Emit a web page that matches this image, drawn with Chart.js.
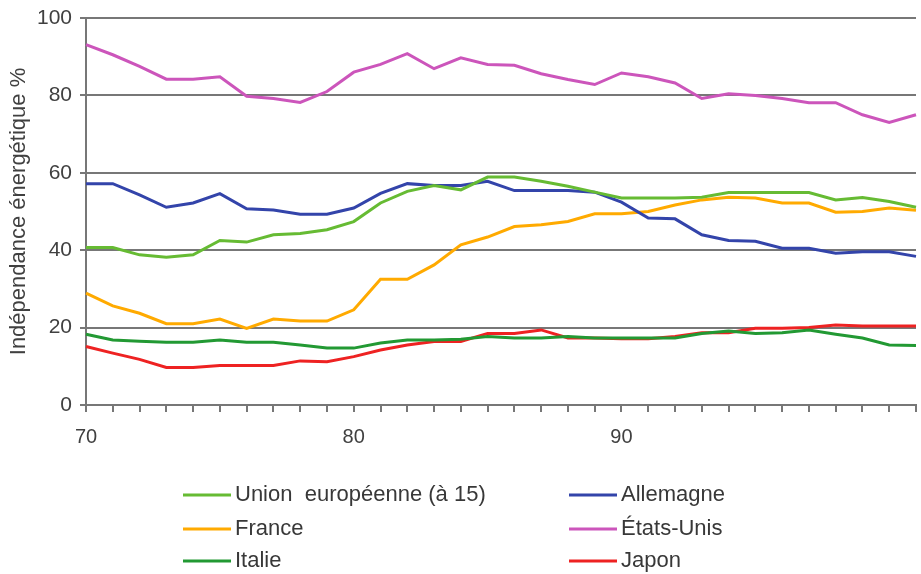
<!DOCTYPE html>
<html lang="fr">
<head>
<meta charset="utf-8">
<title>Indépendance énergétique</title>
<script src="https://cdn.jsdelivr.net/npm/chart.js@4.4.1/dist/chart.umd.min.js"></script>
<style>
  html, body { margin: 0; padding: 0; background: #fff; }
  canvas { display: block; }
</style>
</head>
<body>
<canvas id="graphe" width="921" height="574"></canvas>
<script>
// années 1970 à 2001 (étiquettes courtes)
var annees = [];
for (var a = 70; a <= 101; a++) annees.push(String(a));
var etiquettesAffichees = ['70', '80', '90'];

// taux d'indépendance énergétique, en %
var unionEuropeenne = [40.7, 40.7, 38.8, 38.2, 38.8, 42.5, 42.1, 44.0, 44.3, 45.3,
  47.4, 52.2, 55.2, 56.7, 55.6, 58.9, 58.9, 57.8, 56.5, 55.0,
  53.5, 53.5, 53.5, 53.7, 54.9, 54.9, 54.9, 54.9, 53.0, 53.6, 52.6, 51.1];
var allemagne = [57.2, 57.2, 54.3, 51.1, 52.2, 54.6, 50.7, 50.4, 49.3, 49.3,
  50.9, 54.7, 57.2, 56.7, 56.7, 57.8, 55.4, 55.4, 55.4, 55.0,
  52.4, 48.3, 48.1, 44.0, 42.5, 42.3, 40.5, 40.5, 39.2, 39.6, 39.6, 38.4];
var france = [28.9, 25.6, 23.7, 21.0, 21.0, 22.2, 19.8, 22.2, 21.7, 21.7,
  24.6, 32.5, 32.5, 36.2, 41.4, 43.4, 46.1, 46.6, 47.4, 49.4,
  49.4, 50.0, 51.7, 53.0, 53.7, 53.5, 52.2, 52.2, 49.8, 50.0, 50.9, 50.3];
var etatsUnis = [93.1, 90.5, 87.5, 84.2, 84.2, 84.8, 79.8, 79.2, 78.2, 81.0,
  86.0, 88.0, 90.8, 86.9, 89.7, 88.0, 87.8, 85.6, 84.1, 82.8,
  85.8, 84.8, 83.2, 79.2, 80.4, 80.0, 79.2, 78.1, 78.1, 75.0, 73.0, 75.0];
var italie = [18.3, 16.8, 16.5, 16.2, 16.2, 16.8, 16.2, 16.2, 15.5, 14.7,
  14.7, 16.0, 16.8, 16.8, 17.0, 17.7, 17.3, 17.3, 17.7, 17.3,
  17.3, 17.3, 17.3, 18.5, 19.1, 18.5, 18.7, 19.4, 18.3, 17.3, 15.5, 15.4];
var japon = [15.1, 13.4, 11.8, 9.7, 9.7, 10.2, 10.2, 10.2, 11.4, 11.2,
  12.5, 14.2, 15.5, 16.4, 16.4, 18.5, 18.5, 19.4, 17.3, 17.3,
  17.1, 17.1, 17.7, 18.7, 18.7, 19.8, 19.8, 20.0, 20.7, 20.4, 20.4, 20.4];

var police = "'Liberation Sans', Arial, sans-serif";
var gris = '#777777';

function serie(nom, valeurs, couleur) {
  return {
    label: nom,
    data: valeurs,
    borderColor: couleur,
    backgroundColor: couleur,
    borderWidth: 3,
    pointRadius: 0,
    tension: 0,
    fill: false
  };
}

// légende sur deux colonnes sous le graphique
var legendeDeuxColonnes = {
  id: 'legendeDeuxColonnes',
  afterDraw: function(chart, args, opts) {
    var ctx = chart.ctx;
    ctx.save();
    ctx.font = opts.taille + 'px ' + police;
    ctx.textBaseline = 'middle';
    ctx.fillStyle = '#383838';
    chart.data.datasets.forEach(function(ds, i) {
      var x = opts.colonnes[i % 2];
      var y = opts.lignes[Math.floor(i / 2)];
      ctx.strokeStyle = ds.borderColor;
      ctx.lineWidth = 3;
      ctx.beginPath();
      ctx.moveTo(x, y);
      ctx.lineTo(x + opts.trait, y);
      ctx.stroke();
      ctx.fillText(ds.label, x + opts.trait + 4, y);
    });
    ctx.restore();
  }
};

var ctx = document.getElementById('graphe').getContext('2d');
var chart = new Chart(ctx, {
  type: 'line',
  data: {
    labels: annees,
    datasets: [
      serie('Union  européenne (à 15)', unionEuropeenne, '#66bb33'),
      serie('Allemagne', allemagne, '#3344aa'),
      serie('France', france, '#ffaa00'),
      serie('États-Unis', etatsUnis, '#cc55bb'),
      serie('Italie', italie, '#229933'),
      serie('Japon', japon, '#ee2222')
    ]
  },
  options: {
    responsive: false,
    devicePixelRatio: 1,
    animation: false,
    layout: { padding: { left: 0, top: 18, right: 5, bottom: 0 } },
    plugins: {
      legend: { display: false },
      tooltip: { enabled: false },
      legendeDeuxColonnes: {
        colonnes: [183, 569],
        lignes: [495, 529, 561],
        trait: 48,
        taille: 22
      }
    },
    scales: {
      x: {
        type: 'category',
        offset: false,
        grid: { drawOnChartArea: false, drawTicks: true, tickLength: 7, color: gris, lineWidth: 2 },
        border: { color: gris, width: 2 },
        ticks: {
          autoSkip: false,
          maxRotation: 0,
          padding: 13,
          color: '#404040',
          font: { family: police, size: 20 },
          callback: function(v) {
            var t = this.getLabelForValue(v);
            return etiquettesAffichees.indexOf(t) >= 0 ? t : '';
          }
        },
        afterFit: function(scale) {
          scale.height = 169;
          scale.paddingRight = 0;
          scale.paddingLeft = 0;
        }
      },
      y: {
        min: 0,
        max: 100,
        grid: { color: gris, lineWidth: 2, tickLength: 6 },
        border: { color: gris, width: 2 },
        ticks: {
          stepSize: 20,
          padding: 8,
          color: '#404040',
          font: { family: police, size: 21 }
        },
        title: {
          display: true,
          text: 'Indépendance énergétique %',
          color: '#404040',
          padding: { top: 6, bottom: 0 },
          font: { family: police, size: 22 }
        },
        afterFit: function(scale) {
          scale.width = 86;
          scale.paddingTop = 0;
        }
      }
    }
  },
  plugins: [legendeDeuxColonnes]
});
</script>
</body>
</html>
